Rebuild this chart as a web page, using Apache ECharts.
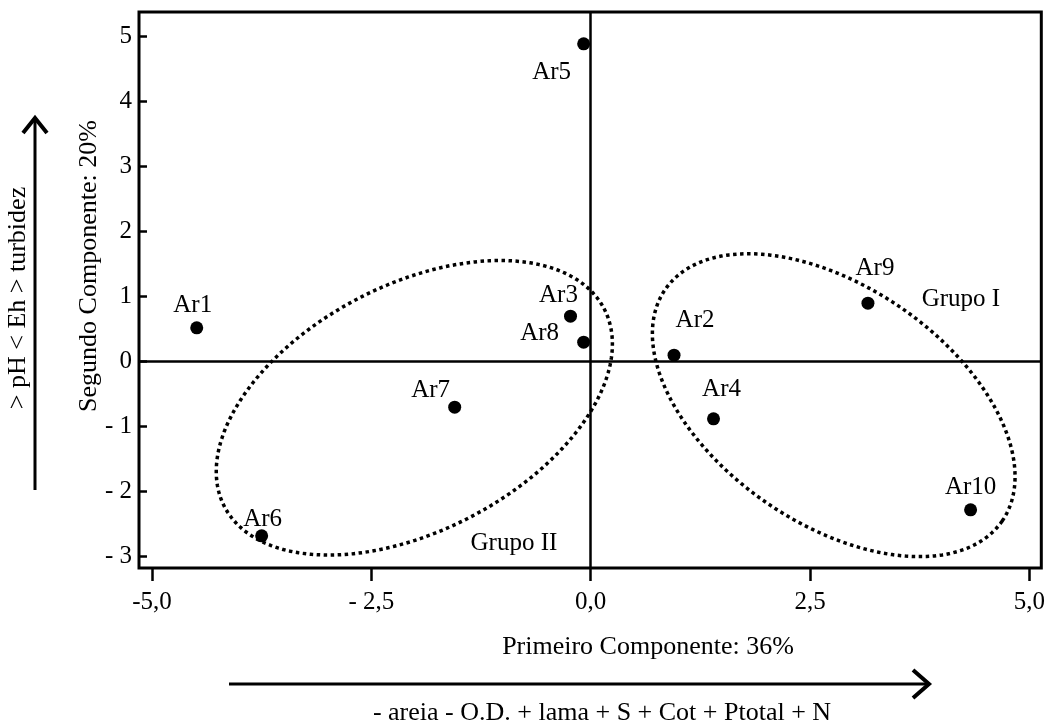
<!DOCTYPE html>
<html>
<head>
<meta charset="utf-8">
<title>ACP - estações Ar1 a Ar10</title>
<script src="https://cdn.jsdelivr.net/npm/echarts@6.0.0/dist/echarts.min.js"></script>
<style>
  html, body { margin: 0; padding: 0; background: #fff; }
  #chart { width: 1048px; height: 725px; }
</style>
</head>
<body>
<div id="chart"></div>
<script>
// escores das estações nos dois primeiros componentes
const stations = ['Ar1', 'Ar2', 'Ar3', 'Ar4', 'Ar5', 'Ar6', 'Ar7', 'Ar8', 'Ar9', 'Ar10']
const comp1 = [-4.49, 0.95, -0.23, 1.40, -0.08, -3.75, -1.55, -0.08, 3.16, 4.33]
const comp2 = [0.51, 0.09, 0.69, -0.89, 4.88, -2.69, -0.71, 0.29, 0.89, -2.29]

const xTicks = [-5, -2.5, 0, 2.5, 5]
const xTickLabels = ['-5,0', '- 2,5', '0,0', '2,5', '5,0']
const yTicks = [5, 4, 3, 2, 1, 0, -1, -2, -3]
const yTickLabels = ['5', '4', '3', '2', '1', '0', '- 1', '- 2', '- 3']

const groupNames = ['Grupo I', 'Grupo II']
const groupX = [4.22, -0.875]
const groupY = [0.94, -2.8]

const FONT = "'Liberation Serif', 'DejaVu Serif', serif"

// posição do rótulo de cada estação em relação ao ponto (px)
const labelOffsets = [[-4, -22], [21, -35], [-12, -21], [8, -29], [-32, 29],
  [1, -16], [-24, -17], [-44, -9], [7, -35], [0, -22]]

// elipses dos grupos: centro em unidades dos eixos, semi-eixos em unidades do eixo x, rotação em graus
const ellipses = [
  { cx: 2.77, cy: -0.68, a: 2.33, b: 1.35, angle: -34.5 },
  { cx: -2.01, cy: -0.72, a: 2.44, b: 1.40, angle: 27.6 }
]

function renderEllipse(params, api) {
  const e = ellipses[params.dataIndex]
  const c = api.coord([e.cx, e.cy])
  const unit = api.size([1, 0])[0]
  const ra = e.a * unit
  const rb = e.b * unit
  const th = e.angle * Math.PI / 180
  const pts = []
  for (let i = 0; i < 240; i++) {
    const t = i / 240 * Math.PI * 2
    const ex = ra * Math.cos(t)
    const ey = rb * Math.sin(t)
    pts.push([c[0] + ex * Math.cos(th) + ey * Math.sin(th),
      c[1] - ex * Math.sin(th) + ey * Math.cos(th)])
  }
  return {
    type: 'polygon',
    shape: { points: pts },
    style: { fill: null, stroke: '#000', lineWidth: 3.5, lineDash: [3.5, 3.5] }
  }
}

const chart = echarts.init(document.getElementById('chart'))

chart.setOption({
  animation: false,
  textStyle: { fontFamily: FONT },
  grid: {
    left: 139, top: 12, right: 4, bottom: 157,
    show: true, borderColor: '#000', borderWidth: 3
  },
  xAxis: {
    type: 'value',
    min: -5.148,
    max: 5.136,
    splitLine: { show: false },
    axisLine: { show: false, onZero: false },
    axisTick: {
      show: true, inside: false, length: 13, customValues: xTicks,
      lineStyle: { color: '#000', width: 2.5 }
    },
    axisLabel: {
      customValues: xTicks,
      margin: 22,
      color: '#000',
      fontFamily: FONT,
      fontSize: 25,
      formatter: v => xTickLabels[xTicks.indexOf(v)]
    }
  },
  yAxis: {
    type: 'value',
    min: -3.185,
    max: 5.369,
    splitLine: { show: false },
    axisLine: { show: false, onZero: false },
    axisTick: {
      show: true, inside: true, length: 8, customValues: yTicks,
      lineStyle: { color: '#000', width: 2.5 }
    },
    axisLabel: {
      customValues: yTicks,
      margin: 7,
      color: '#000',
      fontFamily: FONT,
      fontSize: 25,
      formatter: v => yTickLabels[yTicks.indexOf(v)]
    }
  },
  series: [{
    type: 'scatter',
    symbol: 'circle',
    symbolSize: 13,
    itemStyle: { color: '#000', opacity: 1 },
    data: stations.map((s, i) => ({
      name: s,
      value: [comp1[i], comp2[i]],
      label: { offset: labelOffsets[i] }
    })),
    label: {
      show: true,
      position: 'inside',
      formatter: '{b}',
      color: '#000',
      opacity: 1,
      fontFamily: FONT,
      fontSize: 25,
      align: 'center',
      verticalAlign: 'middle'
    },
    markLine: {
      silent: true,
      symbol: 'none',
      label: { show: false },
      lineStyle: { color: '#000', width: 2.5, type: 'solid', opacity: 1 },
      data: [{ xAxis: 0 }, { yAxis: 0 }]
    }
  }, {
    // nomes dos grupos
    type: 'scatter',
    symbolSize: 0,
    silent: true,
    itemStyle: { opacity: 1 },
    data: groupNames.map((g, i) => ({ name: g, value: [groupX[i], groupY[i]] })),
    label: {
      show: true,
      position: 'inside',
      formatter: '{b}',
      color: '#000',
      opacity: 1,
      fontFamily: FONT,
      fontSize: 25
    }
  }, {
    type: 'custom',
    silent: true,
    renderItem: renderEllipse,
    data: ellipses.map(e => [e.cx, e.cy]),
    z: 1
  }],
  graphic: [
    {
      type: 'text', x: 648, y: 647,
      style: { text: 'Primeiro Componente: 36%', fill: '#000', font: '26px ' + FONT, textAlign: 'center', textVerticalAlign: 'middle' }
    },
    {
      type: 'text', x: 89, y: 266, rotation: Math.PI / 2,
      style: { text: 'Segundo Componente: 20%', fill: '#000', font: '26px ' + FONT, textAlign: 'center', textVerticalAlign: 'middle' }
    },
    {
      type: 'text', x: 602, y: 713,
      style: { text: '- areia - O.D. + lama + S + Cot + Ptotal + N', fill: '#000', font: '26px ' + FONT, textAlign: 'center', textVerticalAlign: 'middle' }
    },
    {
      type: 'text', x: 18, y: 298, rotation: Math.PI / 2,
      style: { text: '> pH < Eh > turbidez', fill: '#000', font: '26px ' + FONT, textAlign: 'center', textVerticalAlign: 'middle' }
    },
    // seta horizontal
    {
      type: 'line', shape: { x1: 229, y1: 684, x2: 928, y2: 684 },
      style: { stroke: '#000', lineWidth: 3 }
    },
    {
      type: 'polyline', shape: { points: [[913, 670], [929, 684], [913, 698]] },
      style: { stroke: '#000', lineWidth: 4, fill: null }
    },
    // seta vertical
    {
      type: 'line', shape: { x1: 35, y1: 490, x2: 35, y2: 119 },
      style: { stroke: '#000', lineWidth: 3 }
    },
    {
      type: 'polyline', shape: { points: [[23, 133], [35, 118], [47, 133]] },
      style: { stroke: '#000', lineWidth: 4, fill: null }
    }
  ]
})
</script>
</body>
</html>
